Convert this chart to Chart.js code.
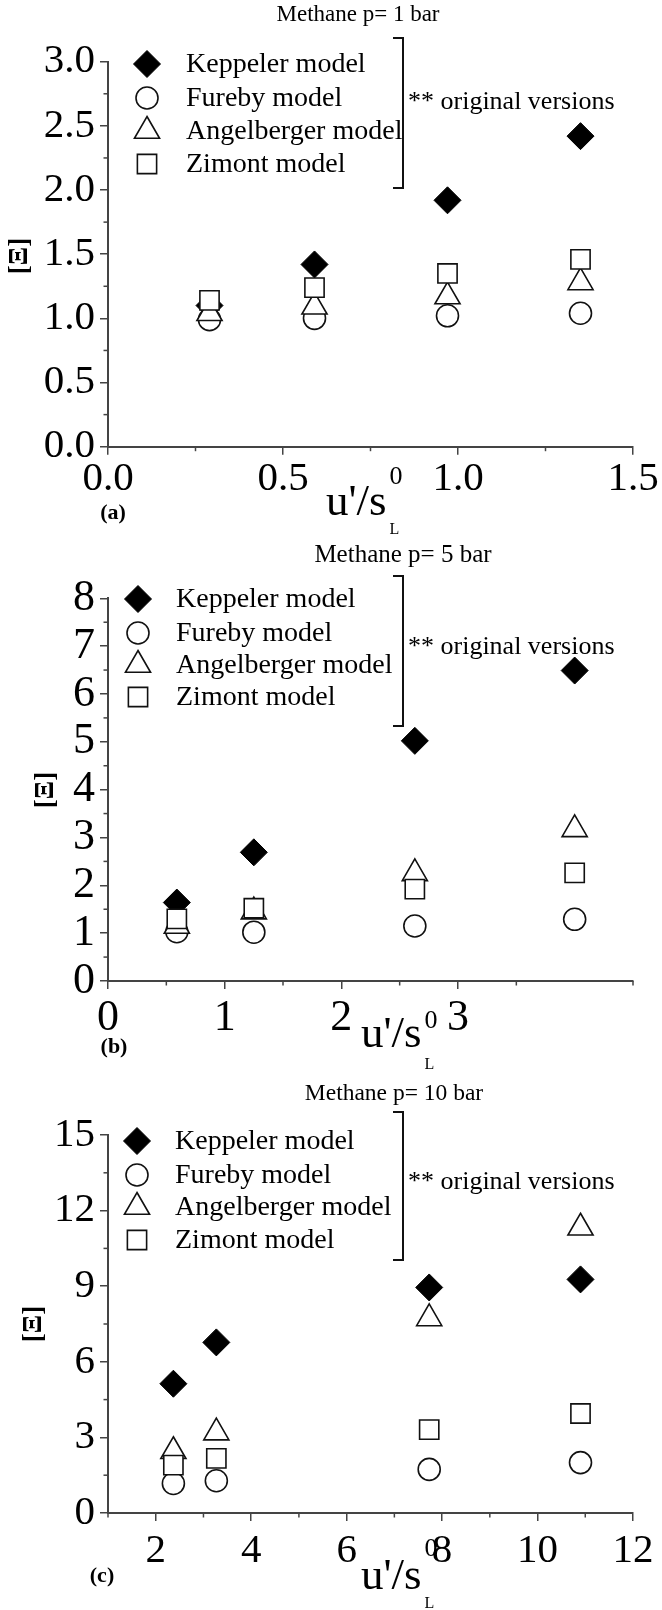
<!DOCTYPE html>
<html><head><meta charset="utf-8">
<script src="https://cdn.jsdelivr.net/npm/chart.js@4/dist/chart.umd.min.js"></script>
<style>
html,body{margin:0;padding:0;background:#fff;}
canvas{display:block;}
</style></head><body>
<canvas id="ca" width="662" height="535"></canvas>
<canvas id="cb" width="662" height="535"></canvas>
<canvas id="cc" width="662" height="540"></canvas>
<script>
// ---------- data ----------
const seriesNames = ['Keppeler model', 'Fureby model', 'Angelberger model', 'Zimont model'];

// panel (a) Methane p = 1 bar
const xA = [0.29, 0.59, 0.97, 1.35];
const keppelerA = [1.10, 1.42, 1.92, 2.42];
const furebyA = [0.99, 1.00, 1.02, 1.04];
const angelbergerA = [1.04, 1.09, 1.17, 1.28];
const zimontA = [1.14, 1.24, 1.35, 1.46];

// panel (b) Methane p = 5 bar
const xB = [0.59, 1.25, 2.63, 4.0];
const keppelerB = [1.64, 2.69, 5.02, 6.49];
const furebyB = [1.03, 1.02, 1.15, 1.29];
const angelbergerB = [1.15, 1.45, 2.25, 3.17];
const zimontB = [1.30, 1.52, 1.92, 2.26];

// panel (c) Methane p = 10 bar
const xC = [2.37, 3.27, 7.73, 10.9];
const keppelerC = [5.13, 6.77, 8.95, 9.27];
const furebyC = [1.17, 1.28, 1.73, 2.00];
const angelbergerC = [2.45, 3.19, 7.72, 11.32];
const zimontC = [1.90, 2.17, 3.31, 3.95];

const titles = ['Methane p= 1 bar', 'Methane p= 5 bar', 'Methane p= 10 bar'];
const panelTags = ['(a)', '(b)', '(c)'];
const noteText = '** original versions';

// ---------- styles ----------
const SERIF = '"Liberation Serif", "Times New Roman", serif';
const AXIS_COLOR = '#444';
const markerStyles = [
  {pointStyle: 'rectRot', radius: 13.5, bg: '#000', border: '#000', bw: 1},
  {pointStyle: 'circle', radius: 11, bg: '#fff', border: '#111', bw: 1.6},
  {pointStyle: 'triangle', radius: 14.5, bg: '#fff', border: '#111', bw: 1.6},
  {pointStyle: 'rect', radius: 13.6, bg: '#fff', border: '#111', bw: 1.6}
];
const drawOrder = [4, 3, 2, 1];

function makeDatasets(xs, seriesList) {
  return seriesList.map((vals, i) => ({
    label: seriesNames[i],
    data: xs.map((x, j) => ({x: x, y: vals[j]})),
    pointStyle: markerStyles[i].pointStyle,
    pointRadius: markerStyles[i].radius,
    pointHoverRadius: markerStyles[i].radius,
    pointBackgroundColor: markerStyles[i].bg,
    pointBorderColor: markerStyles[i].border,
    pointBorderWidth: markerStyles[i].bw,
    showLine: false,
    order: drawOrder[i]
  }));
}

function drawMarker(ctx, st, x, y) {
  ctx.save();
  ctx.fillStyle = st.bg; ctx.strokeStyle = st.border; ctx.lineWidth = st.bw;
  if (Chart.helpers && Chart.helpers.drawPoint) {
    Chart.helpers.drawPoint(ctx, {pointStyle: st.pointStyle, rotation: 0, radius: st.radius, borderWidth: st.bw}, x, y);
  }
  ctx.restore();
}

function panelPlugin(p) {
  return {
    id: 'panelDeco',
    afterDraw(chart) {
      const ctx = chart.ctx;
      const xs = chart.scales.x, ys = chart.scales.y;
      ctx.save();
      // minor ticks
      ctx.strokeStyle = AXIS_COLOR; ctx.lineWidth = 1.5;
      p.minorY.forEach(v => {
        const py = ys.getPixelForValue(v);
        ctx.beginPath(); ctx.moveTo(chart.chartArea.left, py); ctx.lineTo(chart.chartArea.left - 4.5, py); ctx.stroke();
      });
      p.minorX.forEach(v => {
        const px = xs.getPixelForValue(v);
        ctx.beginPath(); ctx.moveTo(px, chart.chartArea.bottom); ctx.lineTo(px, chart.chartArea.bottom + 4.5); ctx.stroke();
      });
      // title
      ctx.fillStyle = '#000';
      ctx.textBaseline = 'middle';
      ctx.textAlign = 'center';
      ctx.font = p.titleSize + 'px ' + SERIF;
      ctx.fillText(p.title, p.titleX, p.titleY);
      // legend
      ctx.textAlign = 'left';
      ctx.font = p.legSize + 'px ' + SERIF;
      seriesNames.forEach((name, i) => {
        drawMarker(ctx, markerStyles[i], p.legMarkX, p.legRows[i]);
        ctx.fillStyle = '#000';
        ctx.fillText(name, p.legTextX, p.legRows[i] + 1);
      });
      // bracket
      ctx.strokeStyle = '#111'; ctx.lineWidth = 2;
      ctx.beginPath();
      ctx.moveTo(p.brX - 10, p.brTop); ctx.lineTo(p.brX, p.brTop);
      ctx.lineTo(p.brX, p.brBot); ctx.lineTo(p.brX - 10, p.brBot);
      ctx.stroke();
      ctx.font = p.noteSize + 'px ' + SERIF;
      ctx.fillText(noteText, p.brX + 5, p.noteY);
      // panel tag
      ctx.textAlign = 'center';
      ctx.font = 'bold 22px ' + SERIF;
      ctx.fillText(p.tag, p.tagX, p.tagY);
      // x title u'/s_L^0
      ctx.textAlign = 'left';
      ctx.textBaseline = 'alphabetic';
      ctx.font = p.xtSize + 'px ' + SERIF;
      ctx.fillText("u'/s", p.xtX, p.xtBase);
      const w = ctx.measureText("u'/s").width;
      ctx.font = '26px ' + SERIF;
      ctx.fillText('0', p.xtX + w + 3, p.supBase);
      ctx.font = '16px ' + SERIF;
      ctx.fillText('L', p.xtX + w + 3, p.subBase);
      // y title
      ctx.save();
      ctx.translate(p.ytX, p.ytY);
      ctx.rotate(-Math.PI / 2);
      ctx.textAlign = 'center';
      ctx.textBaseline = 'middle';
      ctx.font = 'bold 27px ' + SERIF;
      ctx.fillText('[\u039E]', 0, 0);
      ctx.restore();
      ctx.restore();
    }
  };
}

function makeChart(id, cfg) {
  const canvasH = document.getElementById(id).height;
  const xAxisH = 60;
  return new Chart(document.getElementById(id), {
    type: 'scatter',
    data: {datasets: makeDatasets(cfg.xs, cfg.series)},
    options: {
      responsive: false, animation: false, devicePixelRatio: 1,
      layout: {padding: {left: 0, right: 662 - 633, top: cfg.top, bottom: canvasH - cfg.bottom - xAxisH}},
      plugins: {legend: {display: false}, tooltip: {enabled: false}, title: {display: false}},
      scales: {
        x: {
          type: 'linear', position: 'bottom', min: cfg.xMin, max: cfg.xMax,
          afterFit: s => { s.height = xAxisH; },
          afterBuildTicks: s => { s.ticks = s.ticks.filter(t => cfg.xMajor.includes(t.value)); },
          ticks: {stepSize: cfg.xStep, color: '#000', padding: cfg.xPad, maxRotation: 0, autoSkip: false,
                  font: {family: SERIF, size: cfg.tickSize}, callback: cfg.fmt},
          grid: {display: true, drawOnChartArea: false, drawTicks: true, tickLength: 8, color: AXIS_COLOR, lineWidth: 1.5},
          border: {display: true, color: AXIS_COLOR, width: 2}
        },
        y: {
          type: 'linear', position: 'left', min: cfg.yMin, max: cfg.yMax,
          afterFit: s => { s.width = 108; },
          ticks: {stepSize: cfg.yStep, color: '#000', padding: 5, autoSkip: false,
                  font: {family: SERIF, size: cfg.tickSize}, callback: cfg.fmt},
          grid: {display: true, drawOnChartArea: false, drawTicks: true, tickLength: 8, color: AXIS_COLOR, lineWidth: 1.5},
          border: {display: true, color: AXIS_COLOR, width: 2}
        }
      }
    },
    plugins: [panelPlugin(cfg.deco)]
  });
}

const fmt1 = v => Number(v).toFixed(1);
const fmt0 = v => String(Math.round(v));

makeChart('ca', {
  xs: xA, series: [keppelerA, furebyA, angelbergerA, zimontA],
  xMin: 0, xMax: 1.5, xStep: 0.5, xMajor: [0, 0.5, 1, 1.5], yMin: 0, yMax: 3, yStep: 0.5,
  top: 61.7, bottom: 446.7, tickSize: 41, xPad: 0, fmt: fmt1,
  deco: {
    minorY: [0.25, 0.75, 1.25, 1.75, 2.25, 2.75], minorX: [0.25, 0.75, 1.25],
    title: titles[0], titleX: 358, titleY: 15, titleSize: 23,
    legMarkX: 147, legRows: [64, 98, 131, 164], legTextX: 186, legSize: 28,
    brX: 403, brTop: 38, brBot: 188, noteY: 102, noteSize: 26,
    tag: panelTags[0], tagX: 113, tagY: 513,
    xtX: 326, xtBase: 515, supBase: 484, subBase: 534, xtSize: 45,
    ytX: 20, ytY: 256
  }
});

makeChart('cb', {
  xs: xB, series: [keppelerB, furebyB, angelbergerB, zimontB],
  xMin: 0, xMax: 4.5, xStep: 1, xMajor: [0, 1, 2, 3, 4], yMin: 0, yMax: 8, yStep: 1,
  top: 63.3, bottom: 446, tickSize: 44, xPad: 3, fmt: fmt0,
  deco: {
    minorY: [0.5, 1.5, 2.5, 3.5, 4.5, 5.5, 6.5, 7.5], minorX: [0.5, 1.5, 2.5, 3.5, 4.5],
    title: titles[1], titleX: 403, titleY: 20, titleSize: 25,
    legMarkX: 138, legRows: [64, 98, 130, 162], legTextX: 176, legSize: 28,
    brX: 403, brTop: 41, brBot: 191, noteY: 112, noteSize: 26,
    tag: panelTags[1], tagX: 114, tagY: 512,
    xtX: 361, xtBase: 512, supBase: 493, subBase: 534, xtSize: 45,
    ytX: 46, ytY: 255
  }
});

makeChart('cc', {
  xs: xC, series: [keppelerC, furebyC, angelbergerC, zimontC],
  xMin: 1, xMax: 12, xStep: 1, xMajor: [2, 4, 6, 8, 10, 12], yMin: 0, yMax: 15, yStep: 3,
  top: 65, bottom: 443, tickSize: 41, xPad: 6, fmt: fmt0,
  deco: {
    minorY: [1.5, 4.5, 7.5, 10.5, 13.5], minorX: [1, 3, 5, 7, 9, 11],
    title: titles[2], titleX: 394, titleY: 24, titleSize: 23.5,
    legMarkX: 137, legRows: [71, 105, 137, 170], legTextX: 175, legSize: 28,
    brX: 403, brTop: 42, brBot: 190, noteY: 112, noteSize: 26,
    tag: panelTags[2], tagX: 102, tagY: 506,
    xtX: 361, xtBase: 519, supBase: 486, subBase: 538, xtSize: 45,
    ytX: 34, ytY: 254
  }
});
</script>
</body></html>
